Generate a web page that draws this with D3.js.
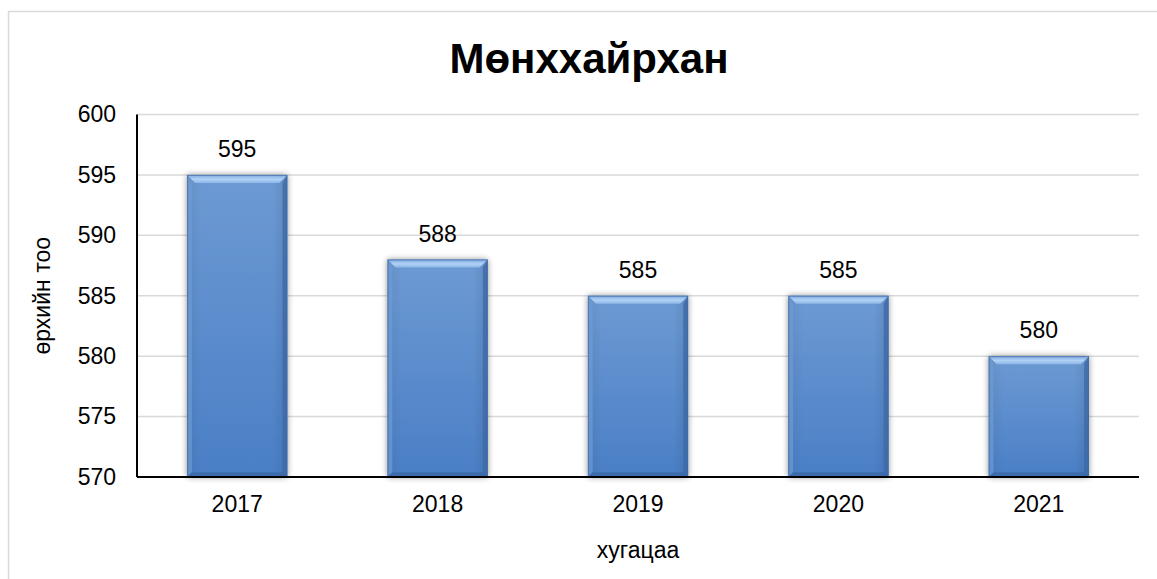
<!DOCTYPE html>
<html>
<head>
<meta charset="utf-8">
<script src="https://cdn.jsdelivr.net/npm/d3@7"></script>
<style>
html,body{margin:0;padding:0;background:#fff;}
svg{display:block;font-family:Arial,"Liberation Sans",sans-serif;}
</style>
</head>
<body>
<svg id="chart" width="1157" height="579"></svg>
<script>
const categories = ["2017","2018","2019","2020","2021"];
const values = [595, 588, 585, 585, 580];
const yTicks = [570, 575, 580, 585, 590, 595, 600];
const titleText = "Мөнххайрхан";
const yTitle = "өрхийн тоо";
const xTitle = "хугацаа";

const svg = d3.select("#chart");
const plot = {left: 137, right: 1139, top: 114.5, bottom: 477};

// outer frame
svg.append("rect").attr("x", 8.5).attr("y", 11.5).attr("width", 1170).attr("height", 600)
  .attr("fill", "#fff").attr("stroke", "#d9d9d9").attr("stroke-width", 1.5);

const x = d3.scaleBand().domain(categories).range([plot.left, plot.right]).paddingInner(0.5).paddingOuter(0.25);
const y = d3.scaleLinear().domain([570, 600]).range([plot.bottom, plot.top]);

const defs = svg.append("defs");
const grad = defs.append("linearGradient").attr("id", "barGrad").attr("x1", 0).attr("y1", 0).attr("x2", 0).attr("y2", 1);
grad.append("stop").attr("offset", "0%").attr("stop-color", "#6d9ad3");
grad.append("stop").attr("offset", "100%").attr("stop-color", "#4a7fc6");
const gradH = defs.append("linearGradient").attr("id", "barGradH").attr("x1", 0).attr("y1", 0).attr("x2", 1).attr("y2", 0);
gradH.append("stop").attr("offset", "0%").attr("stop-color", "#000").attr("stop-opacity", 0.06);
gradH.append("stop").attr("offset", "15%").attr("stop-color", "#000").attr("stop-opacity", 0);
gradH.append("stop").attr("offset", "85%").attr("stop-color", "#000").attr("stop-opacity", 0);
gradH.append("stop").attr("offset", "100%").attr("stop-color", "#000").attr("stop-opacity", 0.1);
const topGrad = defs.append("linearGradient").attr("id", "topGrad").attr("x1", 0).attr("y1", 0).attr("x2", 0).attr("y2", 1);
topGrad.append("stop").attr("offset", "0%").attr("stop-color", "#7ea8de");
topGrad.append("stop").attr("offset", "55%").attr("stop-color", "#b0d2f6");
topGrad.append("stop").attr("offset", "100%").attr("stop-color", "#8db6e6");
const shadow = defs.append("filter").attr("id", "shadow").attr("x", "-20%").attr("y", "-20%").attr("width", "140%").attr("height", "140%");
shadow.append("feGaussianBlur").attr("in", "SourceAlpha").attr("stdDeviation", 3).attr("result", "b");
shadow.append("feOffset").attr("in", "b").attr("dx", 0).attr("dy", 0).attr("result", "o");
shadow.append("feComponentTransfer").attr("in", "o").attr("result", "s")
  .append("feFuncA").attr("type", "linear").attr("slope", 0.45);
const merge = shadow.append("feMerge");
merge.append("feMergeNode").attr("in", "s");
merge.append("feMergeNode").attr("in", "SourceGraphic");

// gridlines
svg.append("g").selectAll("line").data(yTicks.filter(t => t !== 570)).join("line")
  .attr("x1", plot.left).attr("x2", plot.right)
  .attr("y1", d => y(d)).attr("y2", d => y(d))
  .attr("stroke", "#d9d9d9").attr("stroke-width", 1.5);

// bars
const bevel = 8;
const data = categories.map((c, i) => ({c, v: values[i]}));
const bars = svg.append("g").selectAll("g").data(data).join("g");
bars.each(function(d) {
  const g = d3.select(this);
  const x0 = x(d.c), w = x.bandwidth(), y0 = y(d.v), h = y(570) - y(d.v);
  g.append("rect").attr("x", x0).attr("y", y0).attr("width", w).attr("height", h)
    .attr("fill", "url(#barGrad)").attr("filter", "url(#shadow)");
  g.append("rect").attr("x", x0).attr("y", y0).attr("width", w).attr("height", h)
    .attr("fill", "url(#barGradH)");
  const x1 = x0 + w, y1 = y0 + h, b = bevel;
  g.append("path").attr("d", `M${x0},${y0}L${x1},${y0}L${x1-b},${y0+b}L${x0+b},${y0+b}Z`).attr("fill", "url(#topGrad)");
  g.append("path").attr("d", `M${x0},${y0}L${x0+b*0.6},${y0+b}L${x0+b*0.6},${y1-b*0.6}L${x0},${y1}Z`).attr("fill", "#6f9bd4").attr("opacity", 0.7);
  g.append("path").attr("d", `M${x1},${y0}L${x1-b*0.6},${y0+b}L${x1-b*0.6},${y1-b*0.6}L${x1},${y1}Z`).attr("fill", "#3d6aa8").attr("opacity", 0.8);
  g.append("path").attr("d", `M${x0},${y1}L${x1},${y1}L${x1-b*0.6},${y1-b*0.6}L${x0+b*0.6},${y1-b*0.6}Z`).attr("fill", "#3a68a6").attr("opacity", 0.8);
  g.append("rect").attr("x", x0 + 0.5).attr("y", y0 + 0.5).attr("width", w - 1).attr("height", h - 1)
    .attr("fill", "none").attr("stroke", "#3e6aa3").attr("stroke-width", 1).attr("opacity", 0.7);
});

// data labels
svg.append("g").selectAll("text").data(data).join("text")
  .attr("x", d => x(d.c) + x.bandwidth() / 2)
  .attr("y", d => y(d.v) - 18)
  .attr("text-anchor", "middle").attr("font-size", 23).attr("fill", "#000")
  .text(d => d.v);

// axes
const yAxis = d3.axisLeft(y).tickValues(yTicks).tickSize(0).tickPadding(21);
const gy = svg.append("g").attr("transform", `translate(${plot.left},0)`).call(yAxis);
gy.select(".domain").attr("stroke", "#000").attr("stroke-width", 2).attr("d", `M0,${plot.top}V${plot.bottom}`);
gy.selectAll("text").attr("font-size", 23).attr("fill", "#000").attr("font-family", "Arial, 'Liberation Sans', sans-serif");

const xAxis = d3.axisBottom(x).tickSize(0).tickPadding(19);
const gx = svg.append("g").attr("transform", `translate(0,${plot.bottom})`).call(xAxis);
gx.select(".domain").attr("stroke", "#000").attr("stroke-width", 2).attr("d", `M${plot.left},0H${plot.right}`);
gx.selectAll("text").attr("font-size", 23).attr("fill", "#000").attr("font-family", "Arial, 'Liberation Sans', sans-serif");

// titles
svg.append("text").attr("x", 589).attr("y", 73).attr("text-anchor", "middle")
  .attr("font-size", 42).attr("font-weight", "bold").attr("fill", "#000").text(titleText);
svg.append("text").attr("transform", `translate(50,${(plot.top + plot.bottom) / 2}) rotate(-90)`)
  .attr("text-anchor", "middle").attr("font-size", 23).attr("fill", "#000").text(yTitle);
svg.append("text").attr("x", (plot.left + plot.right) / 2).attr("y", 558).attr("text-anchor", "middle")
  .attr("font-size", 23).attr("fill", "#000").text(xTitle);
</script>
</body>
</html>
